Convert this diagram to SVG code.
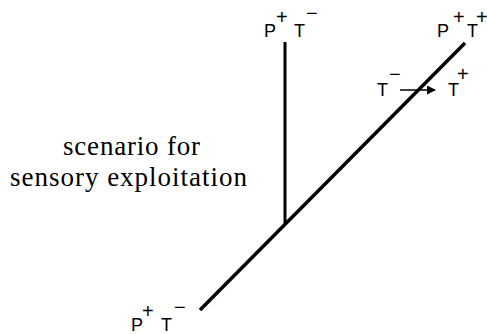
<svg xmlns="http://www.w3.org/2000/svg" width="487" height="334" viewBox="0 0 487 334">
<defs>
<style>
.lbl{font-family:"Liberation Sans",Arial,sans-serif;font-size:18px;fill:#000}
.sup{font-family:"Liberation Sans",Arial,sans-serif;font-size:20px;fill:#000}
.cap{font-family:"Liberation Serif","Times New Roman",serif;font-size:27px;fill:#000}
.ln{stroke:#000;stroke-width:3.5;fill:none}
</style>
<marker id="ah" markerWidth="9" markerHeight="9" refX="8" refY="4.5" orient="auto" markerUnits="userSpaceOnUse">
<path d="M0,0 L9,4.5 L0,9 Z" fill="#000"/>
</marker>
</defs>
<g id="connectors">
<line class="ln" x1="200" y1="310" x2="465" y2="43"/>
<line x1="285" y1="42" x2="285" y2="225" stroke="#000" stroke-width="3"/>
<line x1="400" y1="90" x2="435" y2="90" stroke="#000" stroke-width="1.5" marker-end="url(#ah)"/>
</g>
<g id="node-top-left">
<text class="lbl" x="264" y="37">P</text><text class="sup" x="276" y="24">+</text>
<text class="lbl" x="294" y="37">T</text><text class="sup" x="306" y="20">−</text>
</g>
<g id="node-top-right">
<text class="lbl" x="437" y="37">P</text><text class="sup" x="453" y="24">+</text>
<text class="lbl" x="467" y="37">T</text><text class="sup" x="476" y="24">+</text>
</g>
<g id="node-middle">
<text class="lbl" x="377" y="96">T</text><text class="sup" x="389" y="81">−</text>
<text class="lbl" x="448" y="96">T</text><text class="sup" x="457" y="81">+</text>
</g>
<g id="node-bottom">
<text class="lbl" x="131" y="331">P</text><text class="sup" x="142" y="318">+</text>
<text class="lbl" x="161" y="331">T</text><text class="sup" x="174" y="314">−</text>
</g>
<g id="caption">
<text class="cap" x="63" y="155" textLength="137" lengthAdjust="spacing">scenario for</text>
<text class="cap" x="10" y="186" textLength="237" lengthAdjust="spacing">sensory exploitation</text>
</g>
</svg>
